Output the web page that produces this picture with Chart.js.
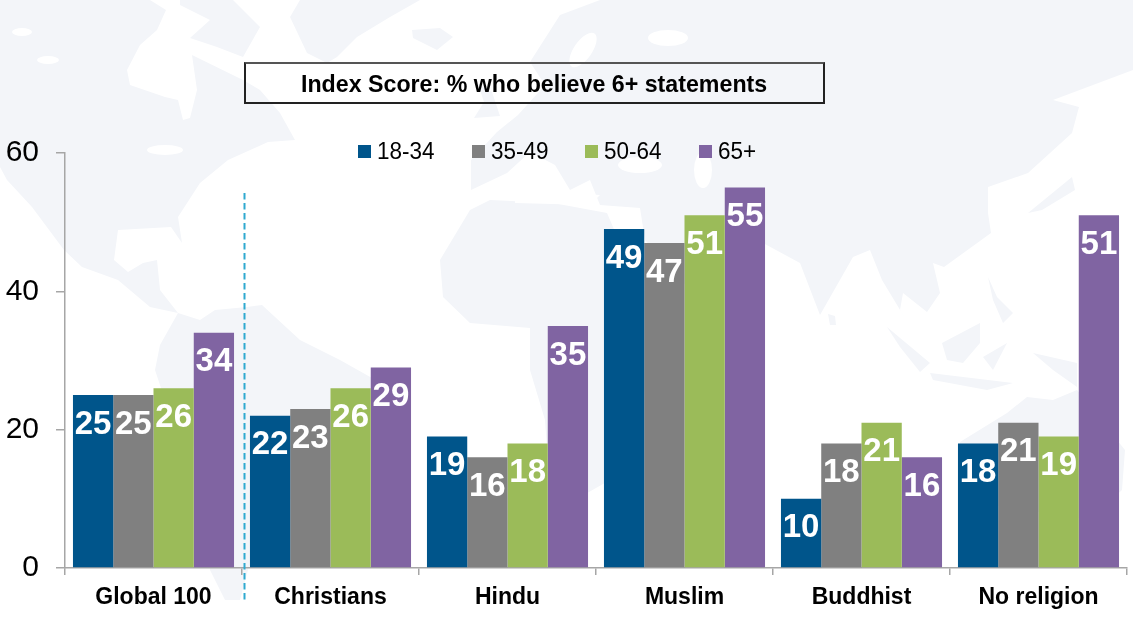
<!DOCTYPE html>
<html>
<head>
<meta charset="utf-8">
<title>Index Score</title>
<script src="https://cdn.jsdelivr.net/npm/chart.js@4"></script>
<style>
  html, body { margin: 0; padding: 0; background: #fff; }
  body { width: 1133px; height: 625px; position: relative; overflow: hidden; font-family: "Liberation Sans", Arial, sans-serif; }
  #map { position: absolute; left: 0; top: 0; }
  #chart_wrap { position: absolute; left: 0; top: 0; width: 1133px; height: 625px; }
  #title_box {
    position: absolute; left: 244px; top: 62px; width: 577px; height: 38px;
    border: 2px solid #222; border-top-color: #555;
    text-align: center; font-weight: bold; font-size: 24px; line-height: 39px; color: #000;
  }
  #title_box span { display: inline-block; transform: scaleX(0.967); white-space: nowrap; }
  #legend { position: absolute; left: 358px; top: 138px; display: flex; }
  .legend_item { width: 113.5px; display: flex; align-items: center; height: 27px; font-size: 23.5px; color: #000; }
  .legend_item .dot { width: 13px; height: 13px; margin-right: 6px; }
  .legend_item .name { display: inline-block; transform: scaleX(0.957); transform-origin: left center; }
</style>
</head>
<body>
<svg id="map" width="1133" height="625" viewBox="0 0 1133 625">
  <g fill="#f3f5f9" stroke="none" style="filter: blur(0.6px)">
    <!-- north america -->
    <path d="M0,0 L150,0 L166,10 L157,30 L140,45 L127,70 L130,85 L165,97 L178,100 L183,120 L190,118 L197,90 L192,55 L243,80 L260,90 L280,113 L295,140 L268,142 L228,160 L200,183 L178,217 L182,243 L171,227 L118,230 L114,260 L128,272 L143,263 L157,260 L160,290 L178,313 L150,307 L118,280 L82,267 L64,250 L32,207 L7,180 L0,167 Z"/>
    <path d="M180,0 L233,0 L260,27 L243,57 L217,47 L190,38 L210,20 L180,5 Z"/>
    <!-- south america -->
    <path d="M178,313 L200,320 L215,310 L247,307 L262,305 L300,340 L340,360 L372,378 L372,400 L345,440 L330,470 L300,490 L280,510 L262,530 L248,570 L240,600 L225,600 L210,570 L205,520 L200,480 L190,430 L165,400 L155,370 L160,345 Z"/>
    <!-- greenland, iceland, uk -->
    <path d="M290,17 L300,0 L420,0 L390,17 L357,37 L337,57 L327,63 L307,53 Z"/>
    <path d="M412,30 L440,28 L453,37 L437,50 L413,38 Z"/>
    <path d="M478,84 L492,92 L500,116 L474,118 L484,102 Z"/>
    <!-- eurasia -->
    <path d="M530,62 L560,15 L600,0 L1133,0 L1133,70 L1053,100 L1079,107 L1072,133 L1028,173 L988,187 L988,213 L991,233 L944,267 L933,263 L940,293 L927,312 L903,293 L900,310 L920,343 L882,280 L870,250 L853,257 L820,315 L800,263 L763,243 L730,225 L700,250 L690,290 L645,240 L640,208 L600,205 L590,180 L570,190 L555,165 L530,152 L507,173 L471,190 L471,160 L497,132 L518,115 L545,85 Z"/>
    <!-- africa -->
    <path d="M490,200 L553,203 L607,213 L640,290 L682,300 L645,390 L640,430 L610,480 L575,500 L550,490 L545,420 L530,370 L530,328 L470,323 L443,297 L440,260 L470,210 Z"/>
    <!-- islands -->
    <path d="M828,314 L835,316 L836,325 L830,325 Z"/>
    <path d="M887,327 L930,363 L920,372 L900,347 Z"/>
    <path d="M930,373 L1013,383 L987,390 L933,380 Z"/>
    <path d="M942,343 L980,323 L980,343 L963,363 L947,360 Z"/>
    <path d="M983,357 L1007,343 L993,370 Z"/>
    <path d="M988,277 L997,297 L1013,313 L1003,323 L993,300 Z"/>
    <path d="M1033,353 L1077,363 L1077,387 L1053,370 Z"/>
    <path d="M960,442 L1007,413 L1027,397 L1053,400 L1077,390 L1125,450 L1122,490 L1090,520 L960,500 Z"/>
    <path d="M1028,213 L1072,177 L1075,190 L1042,210 Z"/>
  </g>
  <g fill="#fff" style="filter: blur(0.6px)">
    <ellipse cx="583" cy="50" rx="9" ry="20" transform="rotate(35 583 50)"/>
    <ellipse cx="668" cy="38" rx="20" ry="8"/>
    <ellipse cx="640" cy="165" rx="22" ry="8"/>
    <ellipse cx="703" cy="170" rx="9" ry="18"/>
    <path d="M515,190 L600,195 L590,205 L515,203 Z"/>
    <ellipse cx="22" cy="32" rx="10" ry="4"/>
    <ellipse cx="48" cy="60" rx="11" ry="4"/>
    <ellipse cx="165" cy="150" rx="18" ry="5"/>
  </g>
</svg>
<div id="chart_wrap"><canvas id="bar_chart"></canvas></div>
<div id="title_box"><span>Index Score: % who believe 6+ statements</span></div>
<div id="legend"></div>
<script>
const categories = ["Global 100", "Christians", "Hindu", "Muslim", "Buddhist", "No religion"];
const seriesNames = ["18-34", "35-49", "50-64", "65+"];
const seriesColors = ["#00558b", "#808080", "#9bbb59", "#8064a2"];
const age18to34 = [25, 22, 19, 49, 10, 18];
const age35to49 = [25, 23, 16, 47, 18, 21];
const age50to64 = [26, 26, 18, 51, 21, 19];
const age65plus = [34, 29, 35, 55, 16, 51];
const yTicks = [0, 20, 40, 60];

const axisColor = "#a6a6a6";

// white numbers inside the top of each bar
const barLabels = {
  id: "barLabels",
  afterDatasetsDraw(chart) {
    const c = chart.ctx;
    c.save();
    c.font = "bold 33px 'Liberation Sans'";
    c.fillStyle = "#fff";
    c.textAlign = "center";
    c.textBaseline = "middle";
    chart.data.datasets.forEach((ds, i) => {
      chart.getDatasetMeta(i).data.forEach((bar, j) => {
        c.fillText(ds.data[j], bar.x, bar.y + 29.5);
      });
    });
    c.restore();
  },
};

// dashed divider after the first group
const divider = {
  id: "divider",
  afterDraw(chart) {
    const c = chart.ctx;
    const x = chart.scales.x.getPixelForValue(0.5) + 2.5;
    c.save();
    c.strokeStyle = "#2fa9d0";
    c.lineWidth = 2;
    c.setLineDash([6.5, 3.5]);
    c.beginPath();
    c.moveTo(x, chart.scales.y.getPixelForValue(54.2));
    c.lineTo(x, chart.chartArea.bottom + 33);
    c.stroke();
    c.restore();
  },
};

const ctx = document.getElementById("bar_chart");
new Chart(ctx, {
  type: "bar",
  data: {
    labels: categories,
    datasets: [age18to34, age35to49, age50to64, age65plus].map((values, i) => ({
      label: seriesNames[i],
      data: values,
      backgroundColor: seriesColors[i],
      borderWidth: 0,
    })),
  },
  options: {
    responsive: true,
    maintainAspectRatio: false,
    animation: false,
    layout: { padding: { top: 153, right: 6, left: 0, bottom: 0 } },
    datasets: { bar: { categoryPercentage: 0.91, barPercentage: 1 } },
    plugins: { legend: { display: false }, tooltip: { enabled: false }, title: { display: false } },
    scales: {
      x: {
        afterFit(scale) { scale.height = 57; },
        border: { color: axisColor, width: 1.5 },
        grid: { drawOnChartArea: false, color: axisColor, tickLength: 7, lineWidth: 1.5 },
        ticks: {
          color: "#000",
          padding: 9,
          maxRotation: 0,
          font: { family: "'Liberation Sans'", size: 23, weight: "bold" },
        },
      },
      y: {
        min: 0,
        max: 60,
        afterFit(scale) { scale.width = 65; },
        afterBuildTicks(scale) { scale.ticks = yTicks.map((value) => ({ value })); },
        border: { color: axisColor, width: 1.5 },
        grid: { drawOnChartArea: false, color: axisColor, tickLength: 9, lineWidth: 1.5 },
        ticks: {
          color: "#000",
          padding: 17,
          font: { family: "'Liberation Sans'", size: 30 },
        },
      },
    },
  },
  plugins: [barLabels, divider],
});

const legend = document.getElementById("legend");
seriesNames.forEach((name, i) => {
  const item = document.createElement("div");
  item.className = "legend_item";
  const dot = document.createElement("span");
  dot.className = "dot";
  dot.style.background = seriesColors[i];
  const label = document.createElement("span");
  label.className = "name";
  label.textContent = name;
  item.appendChild(dot);
  item.appendChild(label);
  legend.appendChild(item);
});
</script>
</body>
</html>
